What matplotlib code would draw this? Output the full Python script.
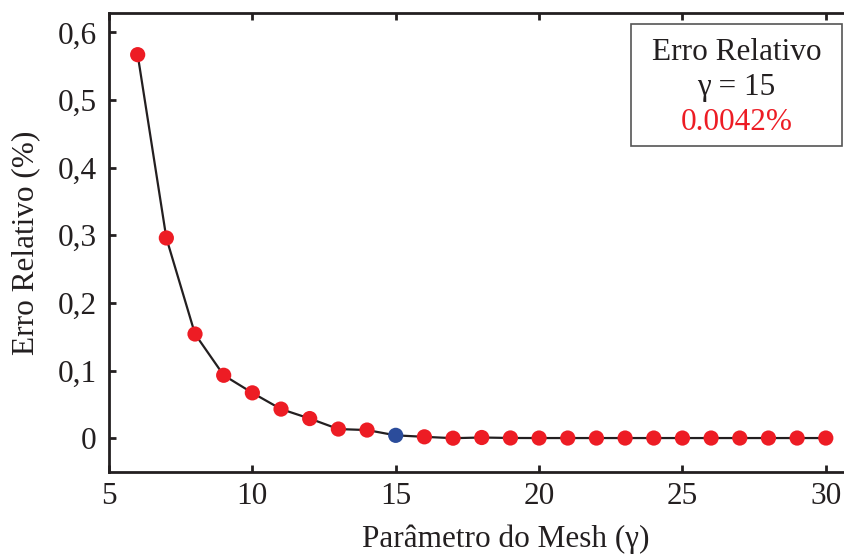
import numpy as np
import matplotlib.pyplot as plt
from matplotlib.patches import Rectangle

plt.rcParams['font.family'] = ['Liberation Serif', 'DejaVu Serif']

# Dados
gamma = [6, 7, 8, 9, 10, 11, 12, 13, 14, 15, 16, 17, 18, 19, 20, 21, 22, 23,
         24, 25, 26, 27, 28, 29, 30]
erro = [0.567, 0.296, 0.154, 0.093, 0.067, 0.043, 0.029, 0.0135, 0.012, 0.0042,
        0.002, 0.0, 0.001, 0.0003, 0.0002, 0.0002, 0.0002, 0.0002,
        0.0002, 0.0002, 0.0002, 0.0002, 0.0002, 0.0002, 0.0002]
gamma_sel = 15
xticks = [5, 10, 15, 20, 25, 30]
yticks = [0, 0.1, 0.2, 0.3, 0.4, 0.5, 0.6]
ytick_labels = ['0', '0,1', '0,2', '0,3', '0,4', '0,5', '0,6']

red = '#ED1C24'
blue = '#2B4C9B'
fs = 22.5

W, H = 845, 555
fig = plt.figure(figsize=(W / 100, H / 100), dpi=100)
ax = fig.add_axes([109 / W, (H - 472) / H, (843 - 109) / W, (472 - 13) / H])

ax.plot(gamma, erro, color='#231F20', lw=1.6, zorder=2)
cores = [blue if g == gamma_sel else red for g in gamma]
ax.scatter(gamma, erro, s=120, c=cores, zorder=3, linewidths=0)

ax.set_xlim(5, 30.6)
ax.set_ylim(-0.05, 0.6286)
ax.set_xticks(xticks)
ax.set_yticks(yticks)
ax.set_yticklabels(ytick_labels)
ax.tick_params(axis='both', direction='in', length=5, width=2, labelsize=fs,
               colors='#231F20', pad=9)
ax.tick_params(axis='x', top=True, pad=7)
for s in ['left', 'bottom', 'top']:
    ax.spines[s].set_linewidth(2)
    ax.spines[s].set_color('#231F20')
ax.spines['right'].set_visible(False)

ax.set_xlabel('Parâmetro do Mesh (γ)', fontsize=fs, color='#231F20', labelpad=10)
ax.xaxis.label.set_x((506 - 109) / (843 - 109))
ax.set_ylabel('Erro Relativo (%)', fontsize=fs, color='#231F20', labelpad=12)

# caixa com o erro relativo
x0, x1, y0, y1 = 631, 842, 24, 146
fig.patches.append(Rectangle((x0 / W, 1 - y1 / H), (x1 - x0) / W, (y1 - y0) / H,
                             transform=fig.transFigure, fill=False,
                             edgecolor='#555555', lw=1.2))
xc = (x0 + x1) / 2 / W
fig.text(xc, 1 - 53 / H, 'Erro Relativo', ha='center', va='center', fontsize=fs, color='#231F20')
fig.text(xc, 1 - 88 / H, 'γ = %d' % gamma_sel, ha='center', va='center', fontsize=fs, color='#231F20')
fig.text(xc, 1 - 122 / H, '0.0042%', ha='center', va='center', fontsize=fs, color=red)

fig.savefig('out.png', dpi=100)
